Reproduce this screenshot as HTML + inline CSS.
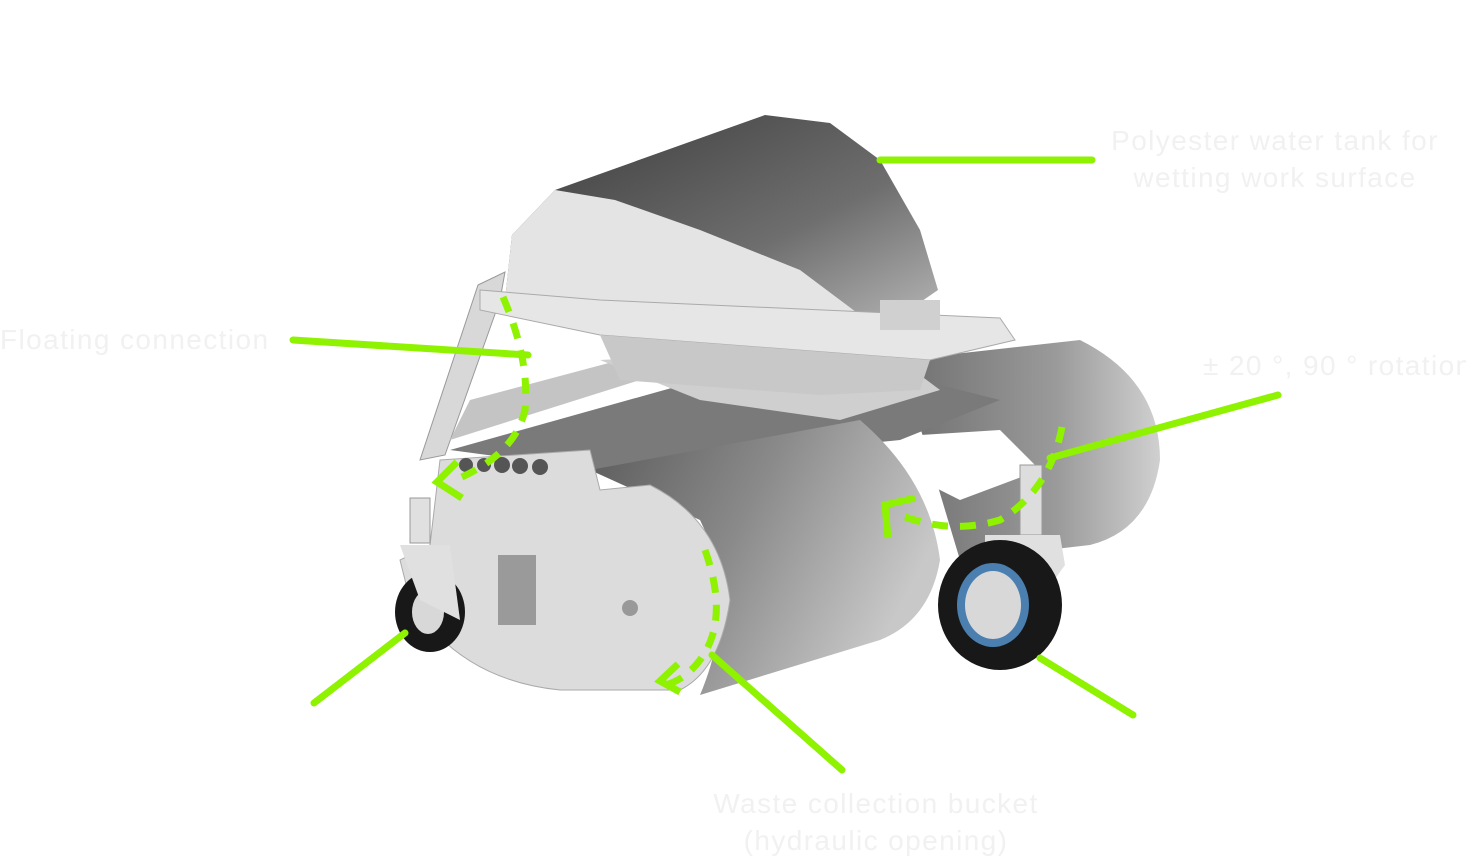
<!DOCTYPE html>
<html><head><meta charset="utf-8"><style>
html,body{margin:0;padding:0;background:#fff;}
svg{display:block;}
text{font-family:"Liberation Sans","DejaVu Sans",sans-serif;fill:#f1f1f1;font-size:28px;letter-spacing:1.4px;}
</style></head><body>
<svg width="1466" height="859" viewBox="0 0 1466 859" xmlns="http://www.w3.org/2000/svg">
<defs>
<linearGradient id="tank" x1="0" y1="0" x2="1" y2="1">
<stop offset="0" stop-color="#3a3a3a"/><stop offset="0.6" stop-color="#6e6e6e"/><stop offset="1" stop-color="#b8b8b8"/></linearGradient>
<linearGradient id="cyl" x1="0" y1="0" x2="1" y2="0.4">
<stop offset="0" stop-color="#5a5a5a"/><stop offset="0.5" stop-color="#8a8a8a"/><stop offset="1" stop-color="#c8c8c8"/></linearGradient>
<linearGradient id="cyl2" x1="0" y1="0" x2="1" y2="0">
<stop offset="0" stop-color="#707070"/><stop offset="0.6" stop-color="#9a9a9a"/><stop offset="1" stop-color="#d0d0d0"/></linearGradient>
</defs>

<polygon points="478,285 505,272 500,300 445,455 420,460" fill="#d8d8d8" stroke="#999"/>
<polygon points="470,400 620,360 640,380 450,440" fill="#c4c4c4"/>
<path d="M900,360 L1080,340 Q1160,380 1160,460 Q1150,530 1090,545 L960,560 Z" fill="url(#cyl2)"/>
<polygon points="840,440 1000,430 1040,470 960,500" fill="#fff"/>
<polygon points="450,450 700,380 880,370 1000,400 900,440 600,470" fill="#7a7a7a"/>
<polygon points="600,360 880,345 940,390 840,420 700,400" fill="#cfcfcf"/>
<path d="M590,470 L860,420 Q930,480 940,560 Q930,620 880,640 L700,695 Q740,600 700,520 Z" fill="url(#cyl)"/>
<path d="M440,460 L590,450 L600,490 L650,485 Q720,520 730,600 Q720,670 680,690 L560,690 Q460,680 410,600 L400,560 L430,545 Z" fill="#dcdcdc" stroke="#aaa"/>
<rect x="498" y="555" width="38" height="70" fill="#9a9a9a"/>
<circle cx="466" cy="465" r="7" fill="#555"/><circle cx="484" cy="465" r="7" fill="#555"/>
<circle cx="502" cy="465" r="8" fill="#555"/><circle cx="520" cy="466" r="8" fill="#555"/><circle cx="540" cy="467" r="8" fill="#555"/>
<circle cx="630" cy="608" r="8" fill="#999"/>
<path d="M505,300 L512,235 L555,190 L765,115 L830,123 L880,160 L920,230 L938,290 L880,330 L615,318 Z" fill="url(#tank)"/>
<path d="M505,300 L512,235 L555,190 L615,200 L700,230 L800,270 L880,330 L615,318 Z" fill="#e4e4e4"/>
<polygon points="480,290 600,300 1000,318 1015,340 930,360 600,335 480,310" fill="#e6e6e6" stroke="#aaa"/>
<polygon points="600,335 930,360 920,390 820,395 620,380" fill="#c8c8c8"/>
<rect x="880" y="300" width="60" height="30" fill="#d0d0d0"/>
<rect x="1020" y="465" width="22" height="70" fill="#ddd" stroke="#999"/>
<polygon points="985,535 1060,535 1065,565 1040,600 1000,625 985,600" fill="#e0e0e0"/>
<ellipse cx="1000" cy="605" rx="62" ry="65" fill="#181818"/>
<ellipse cx="993" cy="605" rx="36" ry="42" fill="#4a7fb0"/>
<ellipse cx="993" cy="605" rx="28" ry="34" fill="#d8d8d8"/>
<rect x="410" y="498" width="20" height="45" fill="#e0e0e0" stroke="#999"/>
<ellipse cx="430" cy="612" rx="35" ry="40" fill="#181818"/>
<ellipse cx="428" cy="612" rx="16" ry="22" fill="#d8d8d8"/>
<path d="M400,545 L450,545 L460,620 L420,600 Z" fill="#e0e0e0"/>

<g stroke="#8ef200" stroke-width="7" stroke-linecap="round" fill="none">
<line x1="880" y1="160" x2="1092" y2="160"/>
<line x1="293" y1="340" x2="528" y2="355"/>
<line x1="1278" y1="395" x2="1050" y2="458"/>
<line x1="314" y1="703" x2="405" y2="633"/>
<line x1="1133" y1="715" x2="1040" y2="658"/>
<line x1="842" y1="770" x2="712" y2="655"/>
<polyline points="457,462 437,482 462,498" stroke-linecap="butt"/>
<polyline points="915,498 885,505 888,538" stroke-linecap="butt"/>
<polyline points="678,664 660,681 680,692" stroke-linecap="butt"/>
</g>
<g stroke="#8ef200" stroke-width="7" stroke-dasharray="16,12" fill="none">
<path d="M503,297 Q530,360 525,410 Q515,455 455,480"/>
<path d="M1062,427 Q1050,490 1000,520 Q950,535 900,515"/>
<path d="M705,550 Q730,620 700,660 Q685,680 665,685"/>
</g>

<text x="1275" y="150" text-anchor="middle">Polyester water tank for</text>
<text x="1275" y="187" text-anchor="middle">wetting work surface</text>
<text x="0" y="349">Floating connection</text>
<text x="1203" y="375">± 20 °, 90 ° rotation</text>
<text x="876" y="813" text-anchor="middle">Waste collection bucket</text>
<text x="876" y="850" text-anchor="middle">(hydraulic opening)</text>
</svg>
</body></html>
